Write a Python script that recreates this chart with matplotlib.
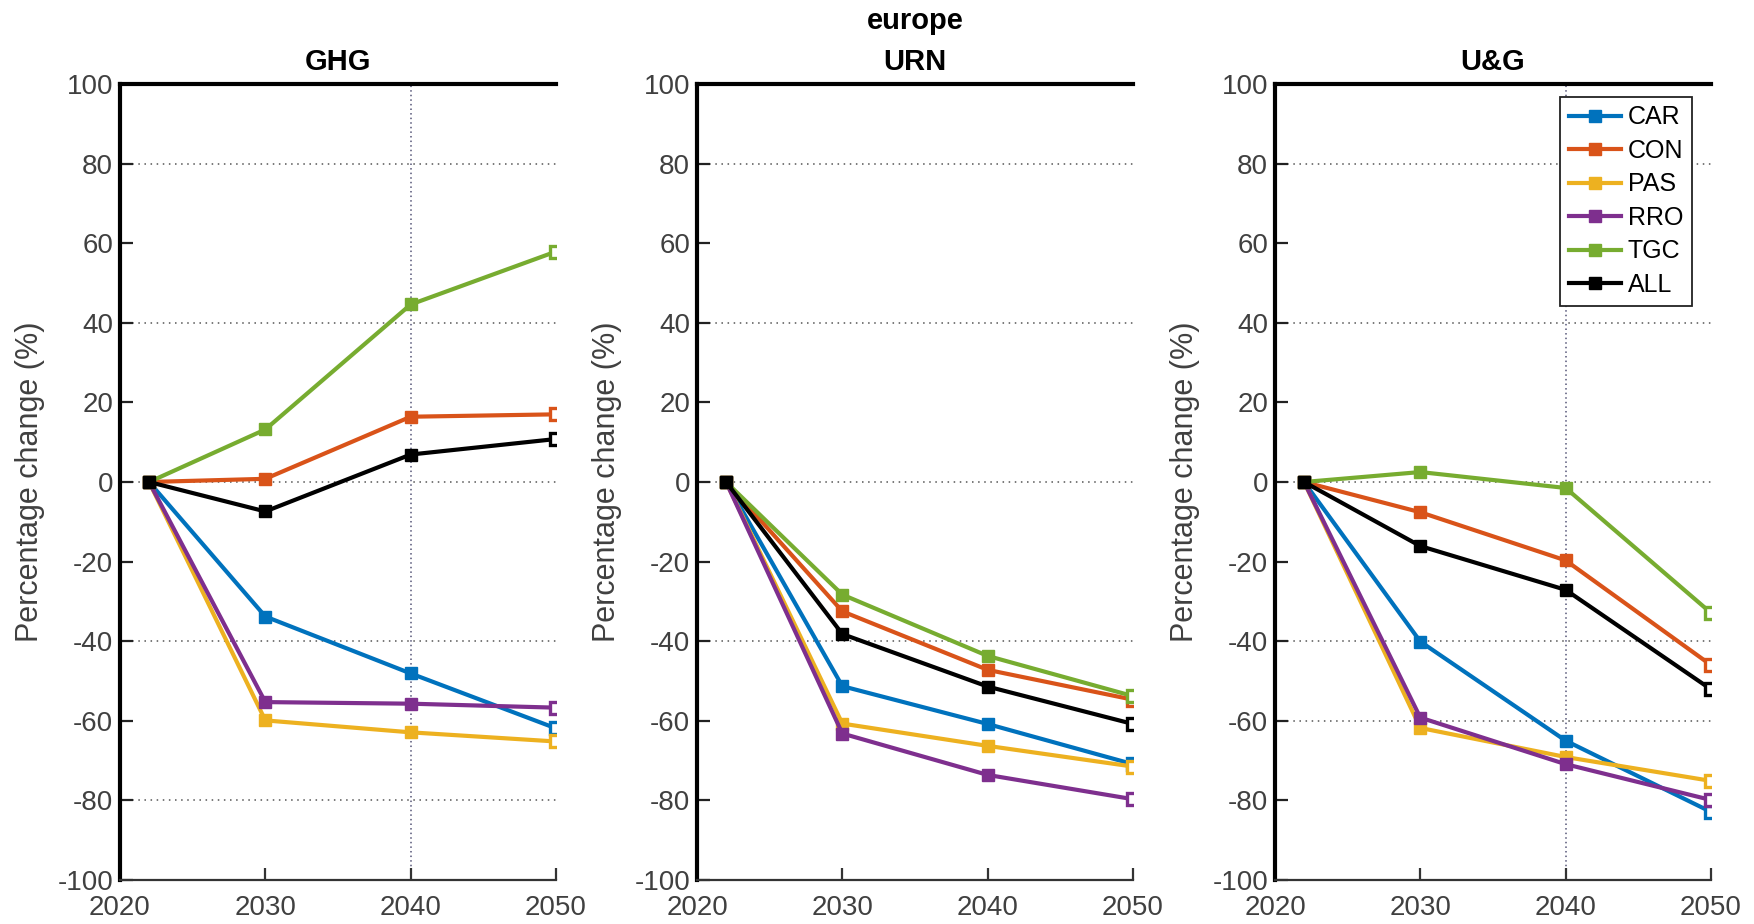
import matplotlib
matplotlib.use("Agg")
import matplotlib.pyplot as plt

plt.rcParams['font.family'] = ['Liberation Sans', 'DejaVu Sans']
plt.rcParams['axes.unicode_minus'] = False

years = [2022, 2030, 2040, 2050]
series_names = ["CAR", "CON", "PAS", "RRO", "TGC", "ALL"]
panel_titles = ["GHG", "URN", "U&G"]
suptitle = "europe"

ghg = {
    "CAR": [0, -33.8, -48.1, -61.9],
    "CON": [0, 0.8, 16.4, 17.0],
    "PAS": [0, -59.9, -62.9, -65.2],
    "RRO": [0, -55.3, -55.7, -56.7],
    "TGC": [0, 13.2, 44.6, 57.9],
    "ALL": [0, -7.4, 6.9, 10.8],
}
urn = {
    "CAR": [0, -51.3, -60.8, -70.9],
    "CON": [0, -32.5, -47.2, -54.7],
    "PAS": [0, -60.7, -66.3, -71.5],
    "RRO": [0, -63.2, -73.6, -79.7],
    "TGC": [0, -28.3, -43.7, -53.8],
    "ALL": [0, -38.2, -51.4, -60.8],
}
ug = {
    "CAR": [0, -40.1, -65.0, -82.9],
    "CON": [0, -7.6, -19.7, -46.0],
    "PAS": [0, -61.8, -69.1, -75.1],
    "RRO": [0, -59.2, -70.9, -79.9],
    "TGC": [0, 2.5, -1.5, -32.9],
    "ALL": [0, -16.1, -27.1, -52.1],
}
panels = [ghg, urn, ug]

xticks = [2020, 2030, 2040, 2050]
yticks = list(range(-100, 101, 20))

colors = {
    "CAR": "#0072BD",
    "CON": "#D95319",
    "PAS": "#EDB120",
    "RRO": "#7E2F8E",
    "TGC": "#77AC30",
    "ALL": "#000000",
}

# grid line layout per panel (style)
hgrids = [[80, 40, 0, -40, -80], [80, 40, 0, -40], [80, 40, 0, -40, -60]]
vgrids = [[2040], [], [2040]]

W, H = 1754, 924
fig = plt.figure(figsize=(W / 100, H / 100), dpi=100)
lefts = [120, 697, 1275]
ax_w = 436
ax_top, ax_bot = 84, 880

tick_gray = "#404040"

for i, data in enumerate(panels):
    ax = fig.add_axes([lefts[i] / W, 1 - ax_bot / H, ax_w / W, (ax_bot - ax_top) / H])
    for g in hgrids[i]:
        ax.axhline(g, color="#555555", lw=1.1, ls=(0, (1, 3)), zorder=1)
    for g in vgrids[i]:
        ax.axvline(g, color="#555577", lw=1.1, ls=(0, (1, 2)), zorder=1)
    handles = []
    for name in series_names:
        vals = data[name]
        c = colors[name]
        h, = ax.plot(years, vals, color=c, lw=3.0, marker='s', ms=8,
                     markevery=[0, 1, 2], mfc=c, mec=c, zorder=3, label=name)
        ax.plot(years[-1:], vals[-1:], ls='none', marker='s', ms=8, mfc='white',
                mec=c, mew=2.4, zorder=3)
        handles.append(h)
    ax.set_xlim(2020, 2050)
    ax.set_ylim(-100, 100)
    ax.set_xticks(xticks)
    ax.set_yticks(yticks)
    ax.spines['right'].set_visible(False)
    ax.spines['top'].set_linewidth(3)
    ax.spines['top'].set_color('black')
    ax.spines['left'].set_linewidth(3)
    ax.spines['left'].set_color('black')
    ax.spines['bottom'].set_linewidth(1.6)
    ax.spines['bottom'].set_color('#333333')
    ax.tick_params(axis='y', direction='in', length=9, width=1.6, color='#222222',
                   labelcolor=tick_gray, labelsize=20, pad=5)
    ax.tick_params(axis='x', direction='in', length=9, width=1.6, color='#333333',
                   labelcolor=tick_gray, labelsize=20, pad=11)
    ax.set_ylabel("Percentage change (%)", fontsize=22, color=tick_gray)
    ax.yaxis.set_label_coords(-0.172, 0.5)
    ax.set_title(panel_titles[i], fontsize=21, fontweight='bold', pad=10)
    if i == 2:
        leg = ax.legend(handles=handles, loc='upper right', bbox_to_anchor=(0.956, 0.984),
                        fontsize=18, frameon=True, fancybox=False, edgecolor='#222222',
                        framealpha=1, handlelength=2.1, handletextpad=0.25,
                        labelspacing=0.38, borderpad=0.35, borderaxespad=0,
                        numpoints=1)
        leg.get_frame().set_linewidth(1.3)
        for lh in leg.legend_handles:
            lh.set_markevery([1])

fig.text((697 + ax_w / 2) / W, 1 - 21 / H, suptitle, ha='center', va='center',
         fontsize=21, fontweight='bold')

fig.savefig("out.png", dpi=100)
